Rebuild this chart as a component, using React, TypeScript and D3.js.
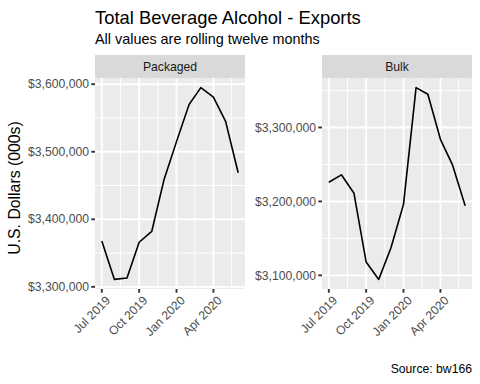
import React from "react";
import * as d3 from "d3";

const months = ["2019-07-01","2019-08-01","2019-09-01","2019-10-01","2019-11-01","2019-12-01","2020-01-01","2020-02-01","2020-03-01","2020-04-01","2020-05-01","2020-06-01"];
const packaged = [3368000, 3311000, 3313000, 3366000, 3382000, 3458000, 3515000, 3570000, 3595000, 3581000, 3545000, 3469000];
const bulk = [3226000, 3236000, 3211000, 3118000, 3094500, 3137000, 3196000, 3354000, 3345000, 3284000, 3249000, 3194000];
const xTickDates = ["2019-07-01","2019-10-01","2020-01-01","2020-04-01"];
const xTickLabels = ["Jul 2019","Oct 2019","Jan 2020","Apr 2020"];
const xMinorDates = ["2019-08-16","2019-11-16","2020-02-15","2020-05-16"];
const packagedTicks = [3300000, 3400000, 3500000, 3600000];
const bulkTicks = [3100000, 3200000, 3300000];
const panelNames = ["Packaged", "Bulk"];

const FONT = "'Liberation Sans', Arial, Helvetica, sans-serif";
const parse = d3.utcParse("%Y-%m-%d");
const fmt = (v: number) => "$" + d3.format(",")(v);

const W = 480, H = 384;
const stripTop = 55, stripH = 23;
const panelTop = stripTop + stripH, panelBottom = 289;
const panels = [
  { name: panelNames[0], x0: 95, x1: 245, values: packaged, ticks: packagedTicks },
  { name: panelNames[1], x0: 322, x1: 472, values: bulk, ticks: bulkTicks },
];

function Panel({ p }: { p: typeof panels[0] }) {
  const dates = months.map((m) => parse(m)!);
  const t0 = +dates[0], t1 = +dates[dates.length - 1];
  const dx = (t1 - t0) * 0.05;
  const x = d3.scaleUtc().domain([new Date(t0 - dx), new Date(t1 + dx)]).range([p.x0, p.x1]);
  const [mn, mx] = d3.extent(p.values) as [number, number];
  const dy = (mx - mn) * 0.05;
  const y = d3.scaleLinear().domain([mn - dy, mx + dy]).range([panelBottom, panelTop]);
  const step = p.ticks[1] - p.ticks[0];
  const yMinor = [p.ticks[0] - step / 2, ...p.ticks.map((t) => t + step / 2)].filter(
    (v) => v >= y.domain()[0] && v <= y.domain()[1]
  );
  const line = d3.line<number>().x((_, i) => x(dates[i])).y((v) => y(v));
  return (
    <g>
      <rect x={p.x0} y={stripTop} width={p.x1 - p.x0} height={stripH} fill="#D9D9D9" />
      <text x={(p.x0 + p.x1) / 2} y={stripTop + stripH / 2 + 4.3} textAnchor="middle" fontSize={12.2} fill="#1A1A1A">{p.name}</text>
      <rect x={p.x0} y={panelTop} width={p.x1 - p.x0} height={panelBottom - panelTop} fill="#EBEBEB" />
      {yMinor.map((v) => (
        <line key={"ym" + v} x1={p.x0} x2={p.x1} y1={y(v)} y2={y(v)} stroke="#fff" strokeWidth={0.95} />
      ))}
      {xMinorDates.map((d) => (
        <line key={"xm" + d} x1={x(parse(d)!)} x2={x(parse(d)!)} y1={panelTop} y2={panelBottom} stroke="#fff" strokeWidth={0.95} />
      ))}
      {p.ticks.map((v) => (
        <line key={"y" + v} x1={p.x0} x2={p.x1} y1={y(v)} y2={y(v)} stroke="#fff" strokeWidth={1.9} />
      ))}
      {xTickDates.map((d) => (
        <line key={"x" + d} x1={x(parse(d)!)} x2={x(parse(d)!)} y1={panelTop} y2={panelBottom} stroke="#fff" strokeWidth={1.9} />
      ))}
      <path d={line(p.values) || ""} fill="none" stroke="#000" strokeWidth={1.6} strokeLinejoin="round" />
      {p.ticks.map((v) => (
        <g key={"yt" + v}>
          <line x1={p.x0 - 3.7} x2={p.x0} y1={y(v)} y2={y(v)} stroke="#333" strokeWidth={1.9} />
          <text x={p.x0 - 6} y={y(v) + 4.2} textAnchor="end" fontSize={12.2} fill="#4D4D4D">{fmt(v)}</text>
        </g>
      ))}
      {xTickDates.map((d, i) => {
        const xx = x(parse(d)!);
        return (
          <g key={"xt" + d}>
            <line x1={xx} x2={xx} y1={panelBottom} y2={panelBottom + 3.7} stroke="#333" strokeWidth={1.9} />
            <text transform={`translate(${xx + 3},${panelBottom + 6}) rotate(-45)`} textAnchor="end" dy="0.72em" fontSize={12.2} fill="#4D4D4D">{xTickLabels[i]}</text>
          </g>
        );
      })}
    </g>
  );
}

export default function App() {
  return (
    <svg width={W} height={H} style={{ position: "absolute", left: 0, top: 0, fontFamily: FONT }}>
      <rect width={W} height={H} fill="#fff" />
      <text x={95} y={24} fontSize={18.4} fill="#000">Total Beverage Alcohol - Exports</text>
      <text x={95} y={44} fontSize={14.4} fill="#000">All values are rolling twelve months</text>
      <text transform={`translate(20,188) rotate(-90)`} textAnchor="middle" fontSize={15.8} fill="#000">U.S. Dollars (000s)</text>
      {panels.map((p) => <Panel key={p.name} p={p} />)}
      <text x={472} y={373} textAnchor="end" fontSize={12.2} fill="#000">Source: bw166</text>
    </svg>
  );
}
